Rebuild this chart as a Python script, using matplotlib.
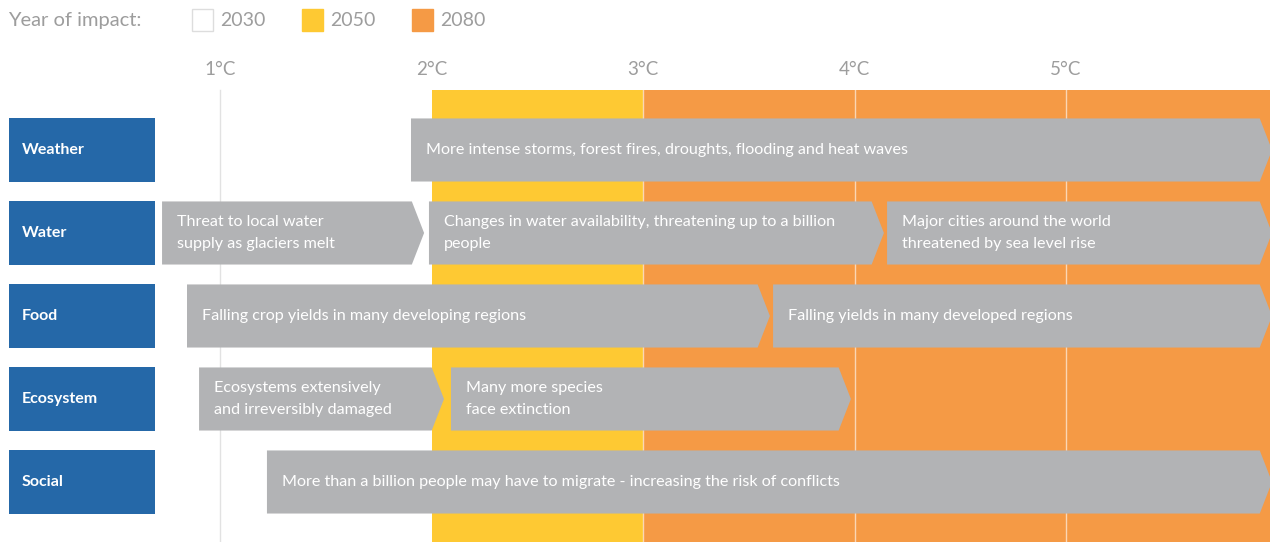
import matplotlib.pyplot as plt
from matplotlib.patches import Polygon, Rectangle

plt.rcParams['font.family'] = ['Lato', 'DejaVu Sans']

# categories (rows, top to bottom)
categories = ['Weather', 'Water', 'Food', 'Ecosystem', 'Social']

# impact arrows: (row, start °C, end °C, text)
arrow_rows = [0, 1, 1, 1, 2, 2, 3, 3, 4]
arrow_start = [1.903, 0.726, 1.988, 4.154, 0.844, 3.615, 0.901, 2.092, 1.222]
arrow_end = [5.974, 1.965, 4.139, 5.974, 3.600, 5.974, 2.059, 3.983, 5.974]
arrow_text = [
    'More intense storms, forest fires, droughts, flooding and heat waves',
    'Threat to local water\nsupply as glaciers melt',
    'Changes in water availability, threatening up to a billion\npeople',
    'Major cities around the world\nthreatened by sea level rise',
    'Falling crop yields in many developing regions',
    'Falling yields in many developed regions',
    'Ecosystems extensively\nand irreversibly damaged',
    'Many more species\nface extinction',
    'More than a billion people may have to migrate - increasing the risk of conflicts',
]

# temperature ticks
temps = [1, 2, 3, 4, 5]
temp_labels = ['1°C', '2°C', '3°C', '4°C', '5°C']

# year-of-impact bands (start °C, end °C)
years = ['2030', '2050', '2080']
band_start = [None, 2, 3]
band_end = [None, 3, 5.97]

YELLOW = '#FEC933'
ORANGE = '#F59A45'
GREY = '#B2B3B5'
BLUE = '#2568A8'
TXT = '#9D9D9D'

fig = plt.figure(figsize=(12.7, 5.42), dpi=100)
ax = fig.add_axes([0, 0, 1, 1])
ax.set_xlim(-0.0402, 5.9645)
ax.set_ylim(4.723, -1.807)
ax.axis('off')

band_top = -0.723
band_colors = [None, YELLOW, ORANGE]
for s, e, c in zip(band_start, band_end, band_colors):
    if s is None:
        continue
    ax.add_patch(Rectangle((s, band_top), e - s, 10, color=c, zorder=1, lw=0))

# grid lines
for t in temps:
    if t == 1:
        ax.plot([t, t], [band_top, 5], color='#E2E2E2', lw=1, zorder=0.5)
    elif t >= 3:
        ax.plot([t, t], [band_top, 5], color='white', lw=1, alpha=0.6, zorder=1.5)

for t, lab in zip(temps, temp_labels):
    ax.text(t, -0.97, lab, ha='center', va='center', fontsize=13.5, color=TXT)

# category boxes
h = 0.76
for i, cat in enumerate(categories):
    ax.add_patch(Rectangle((0.0024, i - h / 2), 0.69, h, color=BLUE, zorder=2, lw=0))
    ax.text(0.063, i, cat, ha='left', va='center', fontsize=11.5, color='white',
            fontweight='bold', zorder=3)

# arrows
tip = 0.058
for r, s, e, txt in zip(arrow_rows, arrow_start, arrow_end, arrow_text):
    pts = [(s, r - h / 2), (e - tip, r - h / 2), (e, r), (e - tip, r + h / 2), (s, r + h / 2)]
    ax.add_patch(Polygon(pts, closed=True, color=GREY, lw=0, zorder=2))
    ax.text(s + 0.07, r, txt, ha='left', va='center', fontsize=11.65,
            color='white', linespacing=1.65, zorder=3)

# legend
ly = -1.565
ax.text(-0.0, ly, 'Year of impact:', ha='left', va='center', fontsize=14.5, color=TXT)
leg_x = [0.868, 1.388, 1.908]
leg_col = ['white', YELLOW, ORANGE]
sq_w = 0.099
sq_h = 0.265
for x, c, y in zip(leg_x, leg_col, years):
    ax.add_patch(Rectangle((x, ly - sq_h / 2), sq_w, sq_h, facecolor=c,
                           edgecolor='#DDDDDD' if c == 'white' else c, lw=1, zorder=2))
    ax.text(x + sq_w + 0.035, ly, y, ha='left', va='center', fontsize=14, color=TXT)

fig.savefig('out.png', dpi=100)
